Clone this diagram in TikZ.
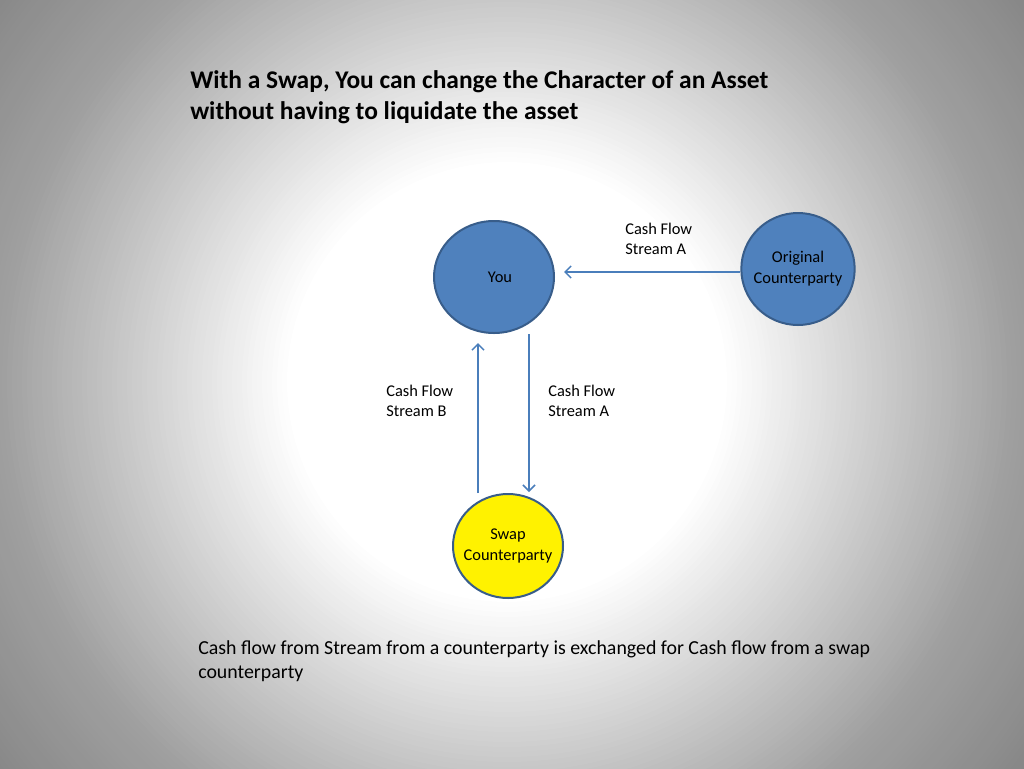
\documentclass[tikz,border=0pt]{standalone}
\usepackage{fontspec}
\setmainfont{Carlito}
\usepackage{tikz}
\usetikzlibrary{arrows.meta,positioning,calc,shapes.geometric}
\definecolor{partyblue}{HTML}{4F81BD}
\definecolor{partyedge}{HTML}{385D8A}
\definecolor{flowblue}{HTML}{4A7EBB}

\begin{document}
\begin{tikzpicture}[x=0.75pt,y=-0.75pt,
	party/.style={ellipse, draw=partyedge, line width=1.5pt, fill=partyblue, inner sep=0pt, align=center, font=\fontsize{12.3}{15.75}\selectfont},
	flow/.style={draw=flowblue, line width=1.1pt, -{Straight Barb[length=4.5pt,width=9pt]}},
	lbl/.style={anchor=west, align=left, inner sep=0pt, font=\fontsize{12.3}{15}\selectfont}]
	\useasboundingbox (0,0) rectangle (1024,768);
	% background glow
	\begin{scope}
		\clip (0,0) rectangle (1024,768);
		\fill[gray!93] (0,0) rectangle (1024,768);
		\foreach \r in {700,695,...,220} {
			\pgfmathsetmacro\p{max(0,min(0.26*(\r-220),75+0.135*(\r-507)))}
			\fill[gray!\p] (507,382) circle[radius=\r*0.75pt];
		}
	\end{scope}
	% title and note
	\node[lbl, font=\bfseries\fontsize{19.1}{23}\selectfont] (title) at (190,97) {With a Swap, You can change the Character of an Asset\\without having to liquidate the asset};
	\node[lbl, font=\fontsize{14.9}{18}\selectfont] (note) at (198,661) {Cash flow from Stream from a counterparty is exchanged for Cash flow from a swap\\counterparty};
	% parties
	\node[party, minimum width=90pt, minimum height=84pt] (you) at (494,277) {\hspace{9pt}You};
	\node[party, inner xsep=-7pt, minimum width=85pt, minimum height=84pt] (orig) at (798,269) {Original\\Counterparty};
	\node[party, inner xsep=-8pt, fill=yellow, minimum width=82.5pt, minimum height=78pt] (swapcp) at (508,546) {Swap\\Counterparty};
	% cash flows
	\draw[flow] ($(orig.west)+(0,3)$) -- ($(you.east)+(9,-5)$);
	\draw[flow] ($(swapcp.north)+(-30,0)$) -- ($(you.south)+(-16,9)$);
	\draw[flow] ($(you.south)+(35,0)$) -- ($(swapcp.north)+(21,-1)$);
	\node[lbl] (lblorig) at (625,239) {Cash Flow\\Stream A};
	\node[lbl] (lblup) at (386,401) {Cash Flow\\Stream B};
	\node[lbl] (lbldown) at (548,401) {Cash Flow\\Stream A};
\end{tikzpicture}
\end{document}
